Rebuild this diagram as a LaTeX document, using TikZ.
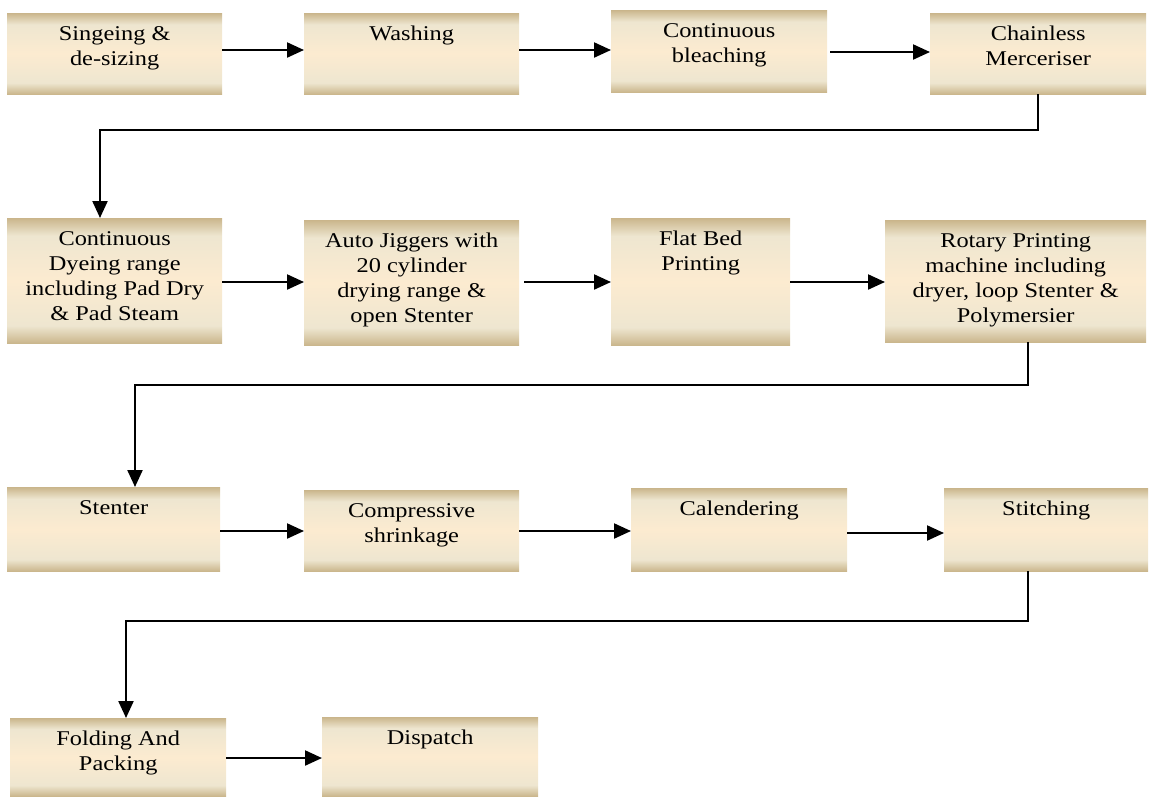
\documentclass[tikz,border=0pt]{standalone}
\usepackage{fontspec}
\setmainfont{Liberation Serif}[FakeStretch=1.16]
\usetikzlibrary{arrows.meta}
\definecolor{tanD}{HTML}{CAB68C}
\definecolor{creamA}{HTML}{EEE6D0}
\definecolor{creamM}{HTML}{FCEBD0}
\pgfdeclareverticalshading{parch}{100bp}{color(0bp)=(tanD); color(25bp)=(tanD); color(32bp)=(creamA); color(50bp)=(creamM); color(68bp)=(creamA); color(75bp)=(tanD); color(100bp)=(tanD)}
\newcommand\bxt[3]{\parbox[c][#2pt][t]{#1pt}{\centering\rule{0pt}{27pt}#3\par}}
\tikzset{
  box/.style={shading=parch, draw=none, inner sep=0pt, anchor=north west},
  arr/.style={line width=2.2pt, -{Triangle[length=17pt,width=15pt]}},
}
\begin{document}
\begin{tikzpicture}[x=1pt,y=-1pt]
\useasboundingbox (0,0) rectangle (1150,796);
\fontsize{21pt}{25pt}\selectfont
% row 1
\node[box] (b1) at (7,13) {\bxt{215}{81}{Singeing \&\\de-sizing}};
\node[box] (b2) at (304,13) {\bxt{215}{81}{Washing}};
\node[box] (b3) at (611,10) {\bxt{216}{82}{Continuous\\bleaching}};
\node[box] (b4) at (930,13) {\bxt{216}{81}{Chainless\\Merceriser}};
% row 2
\node[box] (b5) at (7,218) {\bxt{215}{125}{Continuous\\Dyeing range\\including Pad Dry\\\& Pad Steam}};
\node[box] (b6) at (304,220) {\bxt{215}{125}{Auto Jiggers with\\20 cylinder\\drying range \&\\open Stenter}};
\node[box] (b7) at (611,218) {\bxt{179}{127}{Flat Bed\\Printing}};
\node[box] (b8) at (885,220) {\bxt{261}{122}{Rotary Printing\\machine including\\dryer, loop Stenter \&\\Polymersier}};
% row 3
\node[box] (b9) at (7,487) {\bxt{213}{84}{Stenter}};
\node[box] (b10) at (304,490) {\bxt{215}{81}{Compressive\\shrinkage}};
\node[box] (b11) at (631,488) {\bxt{216}{83}{Calendering}};
\node[box] (b12) at (944,488) {\bxt{204}{83}{Stitching}};
% row 4
\node[box] (b13) at (10,718) {\bxt{216}{78}{Folding And\\Packing}};
\node[box] (b14) at (322,717) {\bxt{216}{79}{Dispatch}};
% connectors
\coordinate (c1) at (100,130);
\coordinate (c2) at (135,385);
\coordinate (c3) at (126,621);
\draw[arr] (b1.east |- 0,50) -- (b2.west |- 0,50);
\draw[arr] (b2.east |- 0,50) -- (b3.west |- 0,50);
\draw[arr] ([xshift=3pt]b3.east |- 0,52) -- (b4.west |- 0,52);
\draw[arr] (b4.south) |- (c1) -- (c1 |- b5.north);
\draw[arr] (b5.east |- 0,282) -- (b6.west |- 0,282);
\draw[arr] ([xshift=5pt]b6.east |- 0,282) -- (b7.west |- 0,282);
\draw[arr] (b7.east |- 0,282) -- (b8.west |- 0,282);
\draw[arr] ([xshift=12.5pt]b8.south) |- (c2) -- (c2 |- b9.north);
\draw[arr] (b9.east |- 0,531) -- (b10.west |- 0,531);
\draw[arr] (b10.east |- 0,531) -- (b11.west |- 0,531);
\draw[arr] (b11.east |- 0,533) -- (b12.west |- 0,533);
\draw[arr] ([xshift=-18pt]b12.south) |- (c3) -- (c3 |- b13.north);
\draw[arr] (b13.east |- 0,758) -- (b14.west |- 0,758);
\end{tikzpicture}
\end{document}
